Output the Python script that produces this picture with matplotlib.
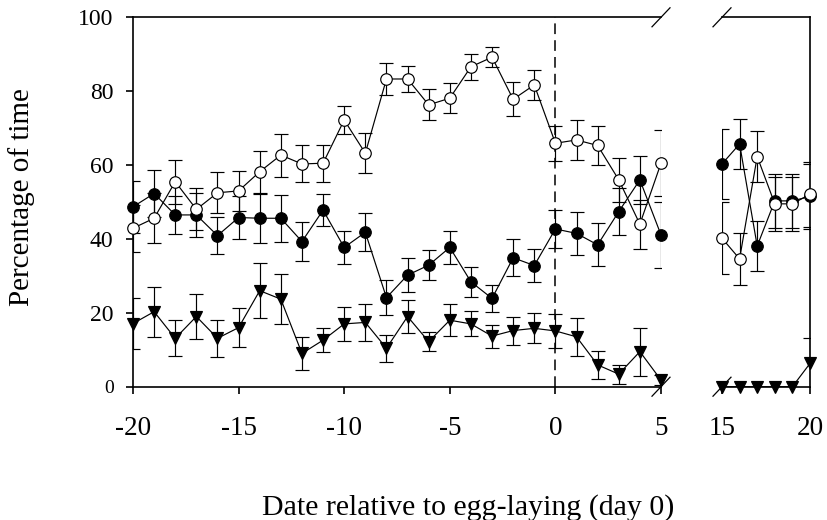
import numpy as np
import matplotlib
matplotlib.use("Agg")
import matplotlib.pyplot as plt
from matplotlib.lines import Line2D

# ---------------- data ----------------
days_left = list(range(-20, 6))
open_left = [42.9, 45.6, 55.5, 48.0, 52.5, 53.0, 58.2, 62.7, 60.3, 60.5, 72.2, 63.2, 83.3,
             83.3, 76.3, 78.1, 86.6, 89.2, 77.8, 81.7, 65.9, 66.8, 65.3, 56.0, 44.0, 60.5]
open_left_err = [6.4, 6.8, 6.0, 5.7, 5.5, 5.4, 5.7, 5.8, 5.0, 5.0, 3.8, 5.4, 4.3,
                 3.6, 4.2, 4.1, 3.5, 2.7, 4.6, 4.0, 4.8, 5.3, 5.3, 6.0, 6.6, 9.0]
filled_left = [48.7, 52.3, 46.5, 46.5, 40.9, 45.8, 45.6, 45.6, 39.3, 47.8, 37.7, 41.8, 24.1,
               30.2, 32.9, 37.7, 28.4, 23.9, 34.9, 32.8, 42.7, 41.5, 38.4, 47.4, 56.0, 41.1]
filled_left_err = [7.0, 6.4, 5.2, 6.0, 5.0, 5.7, 6.7, 6.4, 5.4, 4.3, 4.4, 5.2, 4.8,
                   4.6, 4.0, 4.5, 4.1, 3.6, 5.0, 4.4, 5.2, 5.8, 5.8, 6.4, 6.5, 8.9]
tri_left = [17.1, 20.3, 13.1, 19.0, 13.1, 16.0, 26.0, 23.7, 9.0, 12.6, 17.0, 17.4, 10.4,
            19.0, 12.2, 18.0, 17.0, 13.7, 15.2, 15.8, 15.1, 13.5, 5.9, 3.4, 9.5, 1.8]
tri_left_err = [6.8, 6.8, 4.9, 6.0, 5.0, 5.2, 7.4, 6.7, 4.4, 3.3, 4.6, 5.0, 3.6,
                4.4, 2.6, 4.4, 3.4, 3.1, 3.8, 4.1, 4.7, 5.1, 3.8, 2.6, 6.5, 1.4]

days_right = [15, 16, 17, 18, 19, 20]
open_right = [40.2, 34.6, 62.3, 49.5, 49.5, 52.1]
open_right_err = [9.8, 7.0, 6.8, 7.4, 7.4, 8.8]
filled_right = [60.3, 65.7, 38.1, 50.3, 50.3, 51.5]
filled_right_err = [9.5, 6.9, 6.8, 7.4, 7.4, 8.8]
tri_right = [0.0, 0.0, 0.0, 0.0, 0.0, 6.3]
tri_right_err = [0.0, 0.0, 0.0, 0.0, 0.0, 6.8]

left_ticks = [-20, -15, -10, -5, 0, 5]
left_ticklabels = ["-20", "-15", "-10", "-5", "0", "5"]
right_ticks = [15, 20]
right_ticklabels = ["15", "20"]
y_ticks = [0, 20, 40, 60, 80, 100]
y_ticklabels = ["0", "20", "40", "60", "80", "100"]

xlabel = "Date relative to egg-laying (day 0)"
ylabel = "Percentage of time"

# ---------------- style ----------------
FONT = "Liberation Serif"
plt.rcParams["font.family"] = [FONT, "DejaVu Serif"]
W, H = 828, 520
fig = plt.figure(figsize=(W / 100, H / 100), dpi=100)
fig.patch.set_facecolor("white")


def rect(x0, x1, ytop, ybot):
    return [x0 / W, 1 - ybot / H, (x1 - x0) / W, (ybot - ytop) / H]


YT, YB = 17.3, 386.7
L0, L1 = 133, 661
R0, R1 = 722, 810
ax1 = fig.add_axes(rect(L0, L1, YT, YB))
ax2 = fig.add_axes(rect(R0, R1, YT, YB))

LW = 0.85
SPW = 1.2


def draw_series(ax, x, y, err, marker, mfc, ms, z):
    x = np.asarray(x, float)
    y = np.asarray(y, float)
    err = np.asarray(err, float)
    m = err > 0
    if m.any():
        ax.errorbar(x[m], y[m], yerr=err[m], fmt="none", ecolor="black",
                    elinewidth=LW, capsize=5, capthick=LW, zorder=z)
    ax.plot(x, y, "-", color="black", lw=LW, zorder=z + 0.1)
    ax.plot(x, y, linestyle="none", marker=marker, mfc=mfc, mec="black",
            ms=ms, mew=LW, clip_on=False, zorder=z + 0.2)


for ax, d, (oy, oe), (fy, fe), (ty, te) in [
    (ax1, days_left, (open_left, open_left_err), (filled_left, filled_left_err),
     (tri_left, tri_left_err)),
    (ax2, days_right, (open_right, open_right_err), (filled_right, filled_right_err),
     (tri_right, tri_right_err)),
]:
    draw_series(ax, d, ty, te, "v", "black", 8.5, 3)
    draw_series(ax, d, fy, fe, "o", "black", 8.3, 4)
    draw_series(ax, d, oy, oe, "o", "white", 8.3, 5)

# dashed day-0 line
ax1.axvline(0, color="black", lw=1.1, dashes=(7, 4), zorder=2)

for ax in (ax1, ax2):
    ax.set_ylim(0, 100)
    for s in ax.spines.values():
        s.set_linewidth(SPW)
    ax.tick_params(axis="both", direction="out", length=5, width=SPW, color="black")
    ax.set_facecolor("none")

ax1.set_xlim(-20, 5)
ax2.set_xlim(15, 20)
ax1.spines["right"].set_visible(False)
ax2.spines["left"].set_visible(False)

ax1.set_xticks(left_ticks)
ax1.set_xticklabels(left_ticklabels, fontsize=19.5)
ax2.set_xticks(right_ticks)
ax2.set_xticklabels(right_ticklabels, fontsize=19.5)
ax1.tick_params(axis="x", pad=16)
ax2.tick_params(axis="x", pad=16)

ax1.set_yticks(y_ticks)
ax1.set_yticklabels(y_ticklabels, fontsize=17)
ax1.get_yticklabels()[0].set_fontsize(14)
ax1.tick_params(axis="y", pad=9)
ax2.tick_params(axis="y", left=False, right=False, labelleft=False)

# axis-break marks
for (px, py) in [(L1, YT), (L1, YB), (R0, YT), (R0, YB)]:
    fig.add_artist(Line2D([(px - 9) / W, (px + 9) / W],
                          [1 - (py + 9.5) / H, 1 - (py - 9.5) / H],
                          transform=fig.transFigure, color="black", lw=0.9))

fig.text(468 / W, 1 - 515 / H, xlabel, ha="center", va="baseline", fontsize=21.5)
fig.text(22 / W, 1 - 197.5 / H, ylabel, ha="center", va="center", rotation=90,
         fontsize=21)

fig.savefig("out.png", dpi=100, facecolor="white")
